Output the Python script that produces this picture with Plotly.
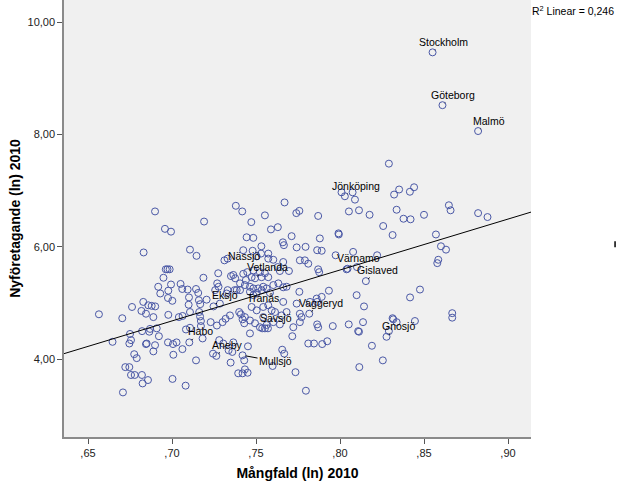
import plotly.graph_objects as go

# ---- data ----
mangfald = [
    0.6565, 0.6646, 0.6704, 0.6708, 0.6722, 0.6746, 0.6750, 0.6756, 0.6746, 0.6775,
    0.6790, 0.6756, 0.6778, 0.6821, 0.6825, 0.6857, 0.6762, 0.6818, 0.6829, 0.6831,
    0.6822, 0.6845, 0.6849, 0.6859, 0.6879, 0.6900, 0.6845, 0.6889, 0.6865, 0.6869,
    0.6899, 0.6889, 0.6909, 0.6922, 0.6918, 0.6930, 0.6899,
    0.6949, 0.6963, 0.6973, 0.6986, 0.6958, 0.6994, 0.6978, 0.6976, 0.6994, 0.6978,
    0.7002, 0.6976, 0.7006, 0.7008, 0.7003, 0.7027, 0.7051, 0.7061, 0.7041, 0.7063,
    0.7062, 0.7081, 0.7093, 0.7101, 0.7099, 0.7107, 0.7107, 0.7083, 0.7107, 0.7143,
    0.7146, 0.7143, 0.7156, 0.7160, 0.7168, 0.7162, 0.7167, 0.7172, 0.7172, 0.7182,
    0.7187, 0.7191,
    0.7206, 0.7230, 0.7257, 0.7277, 0.7267, 0.7269, 0.7275, 0.7285, 0.7301, 0.7312,
    0.7319, 0.7325, 0.7345, 0.7351, 0.7365, 0.7376, 0.7373, 0.7385, 0.7400, 0.7410,
    0.7420, 0.7430, 0.7244, 0.7281, 0.7305, 0.7337, 0.7349, 0.7359, 0.7365, 0.7394,
    0.7420, 0.7434, 0.7450, 0.7430, 0.7452, 0.7380, 0.7418, 0.7444, 0.7331,
    0.7472, 0.7484, 0.7532, 0.7553, 0.7589, 0.7630, 0.7670, 0.7712, 0.7740, 0.7758,
    0.7660, 0.7666, 0.7742, 0.7795, 0.7870, 0.7880,
    0.7424, 0.7480, 0.7504, 0.7573, 0.7603, 0.7629, 0.7642, 0.7448, 0.7484, 0.7523,
    0.7553, 0.7573, 0.7440, 0.7533, 0.7405, 0.7434, 0.7464, 0.7484, 0.7513, 0.7543,
    0.7603, 0.7633, 0.7662, 0.7682, 0.7758, 0.7696, 0.7761, 0.7791, 0.7811, 0.7864,
    0.7891, 0.7974, 0.8078, 0.8221, 0.7870, 0.7876, 0.8039, 0.7991, 0.7934, 0.7891,
    0.7861, 0.7821, 0.7742, 0.7761, 0.7771, 0.8099, 0.8143, 0.8417, 0.8476, 0.8317,
    0.8337, 0.8446, 0.8052, 0.8137, 0.7864, 0.7957, 0.7722, 0.7761,
    0.7424, 0.7474, 0.7405, 0.7464, 0.7484, 0.7504, 0.7533, 0.7563, 0.7583, 0.7504,
    0.7543, 0.7573, 0.7593, 0.7613, 0.7652, 0.7682, 0.7434, 0.7464, 0.7494, 0.7523,
    0.7563, 0.7603, 0.7642, 0.7543,
    0.7464, 0.7537, 0.7571, 0.7599, 0.7656, 0.7668, 0.7735, 0.7797, 0.7716, 0.7811,
    0.7845, 0.7894, 0.7924, 0.7870, 0.8108, 0.8113, 0.8190, 0.8115, 0.8255, 0.8291,
    0.7864, 0.8313, 0.8101, 0.8668, 0.8668,
    0.8648, 0.8658, 0.8822, 0.8878, 0.8500, 0.8571, 0.8601, 0.8631, 0.8585, 0.8579,
    0.8291, 0.8009, 0.8075, 0.8089, 0.8322, 0.8352, 0.8416, 0.8441, 0.8053, 0.8113,
    0.8176, 0.8337, 0.8378, 0.8420, 0.8257, 0.8313, 0.7993,
    0.7662, 0.7530, 0.7573, 0.7662,
]
nyforetagande = [
    4.80, 4.31, 4.73, 3.41, 3.86, 3.86, 4.45, 4.34, 4.28, 4.09,
    4.02, 3.72, 3.72, 3.72, 3.57, 3.63, 4.93, 4.86, 5.02, 5.90,
    4.50, 4.27, 4.28, 4.96, 4.95, 4.94, 4.81, 4.75, 4.49, 4.54,
    4.25, 4.14, 4.55, 4.41, 5.29, 5.17, 6.63,
    5.45, 5.60, 5.60, 5.60, 6.32, 6.27, 5.22, 5.09, 5.33, 4.79,
    5.04, 4.30, 4.27, 4.08, 3.65, 4.30, 5.34, 5.25, 4.75, 4.77,
    4.18, 3.53, 5.24, 5.10, 4.97, 5.95, 4.84, 4.53, 4.56, 5.25,
    5.84, 3.98, 5.18, 5.05, 4.98, 4.84, 4.76, 4.68, 4.59, 4.37,
    5.45, 6.45,
    5.06, 4.66, 5.23, 5.29, 4.60, 5.35, 5.53, 4.99, 4.66, 5.76,
    4.72, 5.17, 4.78, 5.48, 5.50, 5.44, 5.23, 5.23, 4.84, 4.80,
    4.71, 4.64, 4.10, 4.34, 4.28, 4.16, 3.94, 4.13, 4.30, 3.75,
    3.75, 3.82, 3.76, 3.98, 4.23, 6.73, 6.63, 6.17, 5.23,
    6.44, 6.16, 6.01, 6.56, 6.31, 6.35, 6.79, 6.19, 6.60, 6.64,
    6.08, 6.03, 5.99, 6.00, 6.55, 6.15,
    5.94, 5.93, 5.83, 5.79, 5.77, 5.64, 5.57, 5.55, 5.58, 5.55,
    5.53, 5.46, 5.41, 5.46, 5.35, 5.32, 5.29, 5.26, 5.26, 5.29,
    5.32, 5.35, 5.28, 5.29, 5.20, 5.57, 5.76, 5.76, 5.70, 5.94,
    5.93, 5.85, 5.91, 5.85, 5.60, 5.55, 5.60, 6.24, 5.22, 5.11,
    5.08, 5.02, 4.99, 4.81, 4.75, 5.14, 4.94, 5.10, 5.24, 4.71,
    4.66, 4.68, 4.62, 4.66, 4.62, 4.59, 4.57, 4.66,
    5.52, 5.46, 5.23, 5.20, 5.14, 5.18, 5.23, 5.26, 5.18, 4.87,
    4.93, 4.96, 4.87, 4.84, 4.78, 4.84, 4.75, 4.69, 4.64, 4.57,
    4.61, 4.66, 4.62, 4.75,
    4.46, 4.55, 4.55, 3.88, 4.17, 4.10, 3.77, 3.44, 4.41, 4.28,
    4.28, 4.27, 4.32, 4.57, 4.50, 4.49, 4.24, 3.86, 3.98, 4.50,
    5.02, 4.73, 5.64, 4.82, 4.74,
    6.74, 6.65, 6.60, 6.53, 6.57, 6.22, 6.01, 5.95, 5.77, 5.71,
    7.48, 6.97, 6.97, 6.84, 6.93, 7.02, 6.98, 7.06, 6.63, 6.65,
    6.57, 6.66, 6.50, 6.49, 6.37, 6.21, 6.22,
    5.02, 5.88, 5.88, 5.73,
]

label_names = ["Stockholm", "Göteborg", "Malmö", "Jönköping", "Nässjö", "Vetlanda",
               "Eksjö", "Tranås", "Vaggeryd", "Sävsjö", "Habo", "Aneby", "Mullsjö",
               "Värnamo", "Gislaved", "Gnosjö"]
label_x = [0.8551, 0.8610, 0.8822, 0.8029, 0.7331, 0.7494, 0.7247, 0.7474, 0.7817,
           0.7553, 0.7103, 0.7264, 0.7420, 0.8045, 0.8154, 0.8277]
label_y = [9.46, 8.52, 8.06, 6.90, 5.79, 5.44, 4.94, 4.93, 4.81, 4.55, 4.30, 4.06,
           4.07, 5.61, 5.39, 4.40]

fit_intercept = -1.66
fit_slope = 9.06
r2_text = "R<sup>2</sup> Linear = 0,246"

x_tick_vals = [0.65, 0.70, 0.75, 0.80, 0.85, 0.90]
x_tick_text = [",65", ",70", ",75", ",80", ",85", ",90"]
y_tick_vals = [4, 6, 8, 10]
y_tick_text = ["4,00", "6,00", "8,00", "10,00"]

x_title = "Mångfald (ln) 2010"
y_title = "Nyföretagande (ln) 2010"

# ---- presentation ----
x_range = [0.63571, 0.91369]
y_range = [2.6167, 10.3917]
label_dx = [11, 11, 11, 11, 16, 12, 11, 11, 12, 11, 11, 11, 33, 11, 12, 12]
label_dy = [-10, -10, -10, -10, -3, -11, -11, -9, -11, -10, -11, -11, 6, -11, -11, -11]

FONT = "Liberation Sans, Arial, sans-serif"
MARKER_COLOR = "#4a58a6"

fig = go.Figure()
fig.add_trace(go.Scatter(
    x=mangfald + label_x, y=nyforetagande + label_y, mode="markers",
    marker=dict(symbol="circle-open", size=7, color=MARKER_COLOR, line=dict(width=1)),
    showlegend=False, hoverinfo="x+y",
))
fig.add_trace(go.Scatter(
    x=x_range, y=[fit_intercept + fit_slope * v for v in x_range], mode="lines",
    line=dict(color="black", width=1), showlegend=False, hoverinfo="skip",
))

for name, lx, ly, dx, dy in zip(label_names, label_x, label_y, label_dx, label_dy):
    fig.add_annotation(x=lx, y=ly, text=name, showarrow=True, arrowhead=0,
                       arrowwidth=1, arrowcolor="black", ax=dx, ay=dy, standoff=3,
                       font=dict(family=FONT, size=10.5, color="black"))

fig.add_annotation(xref="paper", yref="paper", x=0.998, y=0.977, xanchor="left",
                   yanchor="middle", text=r2_text, showarrow=False,
                   font=dict(family=FONT, size=10.5, color="black"))

fig.add_shape(type="line", xref="paper", yref="paper", x0=1.18, x1=1.18,
              y0=0.434, y1=0.448, line=dict(color="black", width=1.5))

axis_common = dict(showgrid=False, zeroline=False, showline=True, linecolor="#8a8a8a",
                   linewidth=1.5, ticks="outside", ticklen=5, tickcolor="#555555",
                   tickfont=dict(family=FONT, size=11, color="#222222"), automargin=False)

fig.update_layout(
    width=617, height=485,
    margin=dict(l=64, r=86, t=0, b=48),
    paper_bgcolor="white", plot_bgcolor="#f0f0f0",
    font=dict(family=FONT, color="black"),
    xaxis=dict(range=x_range, tickvals=x_tick_vals, ticktext=x_tick_text,
               title=dict(text=f"<b>{x_title}</b>", font=dict(family=FONT, size=14),
                          standoff=10), **axis_common),
    yaxis=dict(range=y_range, tickvals=y_tick_vals, ticktext=y_tick_text,
               title=dict(text=f"<b>{y_title}</b>", font=dict(family=FONT, size=14),
                          standoff=4), **axis_common),
)

fig.write_html("out.html", config={"displayModeBar": False},
               post_script="document.body.style.margin='0';document.body.style.overflow='hidden';")
